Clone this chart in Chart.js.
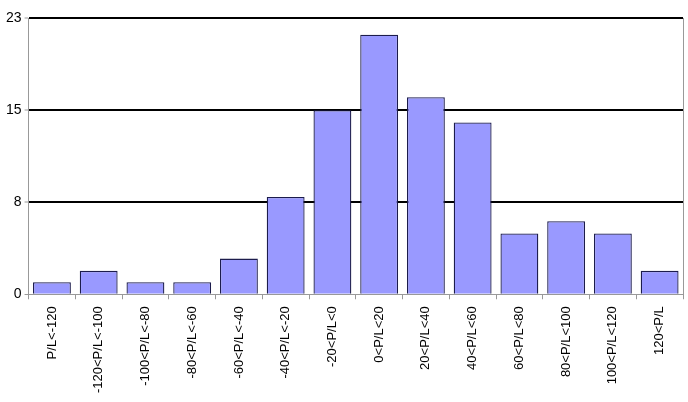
<!DOCTYPE html>
<html lang="en">
<head>
    <meta charset="UTF-8">
    <script src="https://cdn.jsdelivr.net/npm/chart.js"></script>
    <title>P/L distribution</title>
    <style>
        html, body { margin: 0; padding: 0; background: #fff; }
        #wrap { width: 688px; height: 402px; }
    </style>
</head>
<body>
<div id="wrap"><canvas id="myChart"></canvas></div>
<script>
    const categories = ['P/L<-120', '-120<P/L<-100', '-100<P/L<-80', '-80<P/L<-60', '-60<P/L<-40',
        '-40<P/L<-20', '-20<P/L<0', '0<P/L<20', '20<P/L<40', '40<P/L<60',
        '60<P/L<80', '80<P/L<100', '100<P/L<120', '120<P/L'];
    const counts = [1, 1.95, 1, 1, 2.97, 8.1, 15.33, 21.6, 16.4, 14.3, 5.06, 6.08, 5.06, 1.95];
    const yTickValues = [0, 23 / 3, 46 / 3, 23];
    const yTickLabels = ['0', '8', '15', '23'];

    // right-hand frame line of the plot area
    const rightBorder = {
        id: 'rightBorder',
        afterDraw(chart) {
            const a = chart.chartArea, ctx = chart.ctx;
            ctx.save();
            ctx.strokeStyle = '#999';
            ctx.lineWidth = 1;
            ctx.beginPath();
            ctx.moveTo(a.right + 0.5, a.top);
            ctx.lineTo(a.right + 0.5, a.bottom);
            ctx.stroke();
            ctx.restore();
        }
    };

    const ctx = document.getElementById('myChart').getContext('2d');
    new Chart(ctx, {
        type: 'bar',
        data: {
            labels: categories,
            datasets: [{
                data: counts,
                backgroundColor: '#9999ff',
                borderColor: '#1c1c4c',
                borderWidth: 1.3,
                categoryPercentage: 1,
                barPercentage: 0.81
            }]
        },
        options: {
            responsive: true,
            maintainAspectRatio: false,
            animation: false,
            layout: { padding: { top: 18, right: 5, left: 3, bottom: 2 } },
            plugins: { legend: { display: false }, tooltip: { enabled: false } },
            scales: {
                x: {
                    offset: true,
                    grid: { display: true, drawOnChartArea: false, offset: true, color: '#999', tickLength: 5 },
                    border: { color: '#999', width: 1 },
                    ticks: {
                        color: '#000',
                        font: { family: 'Liberation Sans', size: 13 },
                        maxRotation: 90, minRotation: 90,
                        autoSkip: false,
                        padding: 7
                    }
                },
                y: {
                    min: 0, max: 23,
                    afterBuildTicks(axis) {
                        axis.ticks = yTickValues.map(v => ({ value: v }));
                    },
                    grid: {
                        color: c => c.tick && c.tick.value === 0 ? '#999' : '#000',
                        lineWidth: c => c.tick && c.tick.value === 0 ? 1 : 2,
                        tickColor: '#999',
                        tickWidth: 1,
                        tickLength: 4
                    },
                    border: { color: '#999', width: 1 },
                    ticks: {
                        color: '#000',
                        font: { family: 'Liberation Sans', size: 14 },
                        padding: 3,
                        callback: (v, i) => yTickLabels[i]
                    }
                }
            }
        },
        plugins: [rightBorder]
    });
</script>
</body>
</html>
